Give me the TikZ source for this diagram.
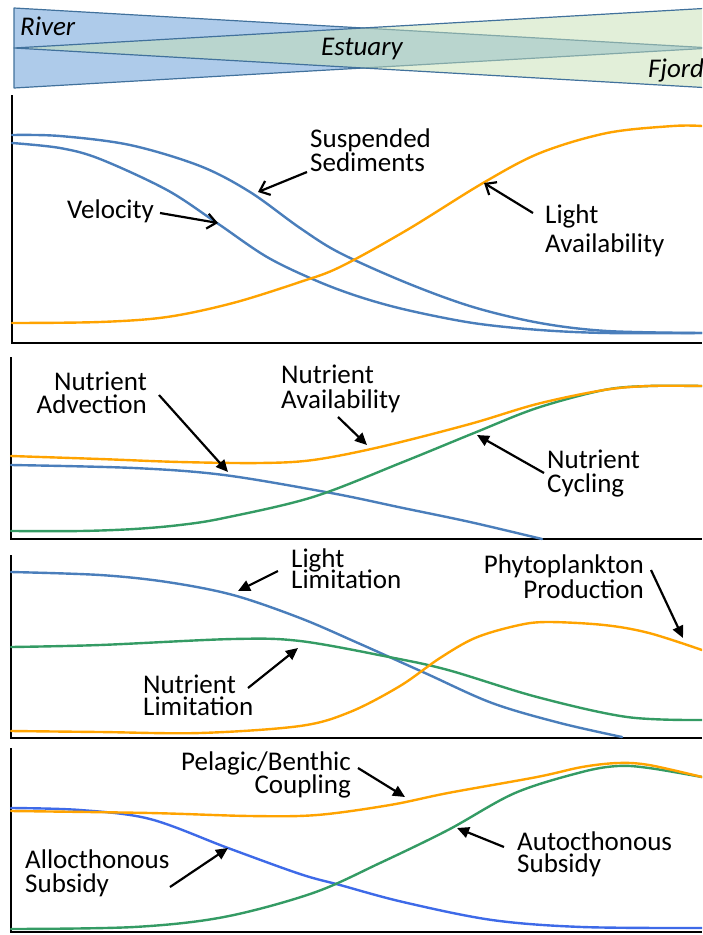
\documentclass[tikz,border=0pt]{standalone}
\usepackage{fontspec}
\setmainfont{Carlito}
\usetikzlibrary{arrows.meta}
\definecolor{bandblue}{RGB}{174,203,234}
\definecolor{bandgreen}{RGB}{197,224,180}
\definecolor{bandline}{RGB}{65,113,156}
\definecolor{cblue}{RGB}{74,126,187}
\definecolor{cblueb}{RGB}{62,106,232}
\definecolor{corange}{RGB}{255,163,0}
\definecolor{cgreen}{RGB}{52,155,100}
\newcommand\twoL[3]{\vtop{\baselineskip=#1\relax\lineskiplimit=-100pt\halign{##\hfil\cr #2\cr #3\cr}}}
\newcommand\twoR[3]{\vtop{\baselineskip=#1\relax\lineskiplimit=-100pt\halign{\hfil##\cr #2\cr #3\cr}}}
\begin{document}
\begin{tikzpicture}[x=1pt,y=-1pt,
  curve/.style={line width=2.4pt, line cap=round, line join=round},
  axis/.style={line width=2.6pt},
  lbl/.style={inner sep=0pt, font=\fontsize{27}{23}\selectfont},
  ital/.style={inner sep=0pt, font=\fontsize{27}{23}\selectfont\itshape},
  arr/.style={line width=2.2pt, -{Straight Barb[length=9pt,width=15pt]}},
  farr/.style={line width=2.2pt, -{Triangle[length=12pt,width=11pt]}},
  band/.style={draw=bandline, line width=1.2pt, line join=round}]
\useasboundingbox (0,0) rectangle (702,935);
\clip (0,0) rectangle (702,935);

% top band
\filldraw[band, fill=bandblue] (14,8) -- (14,88) -- (712,48) -- cycle;
\filldraw[band, fill=bandgreen, fill opacity=0.5] (712,8) -- (712,88) -- (14,48) -- cycle;
\node[ital, anchor=base west] (river) at (20,35) {River};
\node[ital, anchor=base] (estuary) at (362,55) {Estuary};
\node[ital, anchor=base west] (fjord) at (648,77) {Fjord};

% panel 1
\draw[axis] (12,95) -- (12,343) -- (702,343);
\draw[curve, cblue] plot[smooth, tension=0.55] coordinates {(12,135) (60,136) (130,145) (200,166) (250,192) (300,228) (340,253) (407,283) (473,307) (540,323) (607,331) (702,333)};
\draw[curve, cblue] plot[smooth, tension=0.55] coordinates {(12,143) (60,148) (100,159) (167,190) (217,223) (267,257) (317,281) (360,297) (407,310) (473,323) (540,330) (607,333) (702,333)};
\draw[curve, corange] plot[smooth, tension=0.55] coordinates {(12,323) (100,322) (167,317) (233,303) (300,282) (340,267) (407,230) (483,183) (540,153) (607,133) (673,126) (702,126)};
\node[lbl, anchor=base west] (susp) at (310,147) {\twoL{24pt}{Suspended}{Sediments}};
\node[lbl, anchor=base west] (vel) at (67,218) {Velocity};
\node[lbl, anchor=base west] (light) at (545,223) {\twoL{29pt}{Light}{Availability}};
\coordinate (t1) at (307,172); \coordinate (h1) at (258,192);
\coordinate (t2) at (160,213); \coordinate (h2) at (218,223);
\coordinate (t3) at (533,213); \coordinate (h3) at (484,183);
\draw[arr] (t1) -- (h1);
\draw[arr] (t2) -- (h2);
\draw[arr] (t3) -- (h3);

% panel 2
\draw[axis] (11,357) -- (11,539) -- (702,539);
\draw[curve, cblue] plot[smooth, tension=0.55] coordinates {(11,465) (134,468) (224,475) (331,493) (403,508) (470,522) (542,539)};
\draw[curve, cgreen] plot[smooth, tension=0.55] coordinates {(11,531) (80,531) (134,529) (180,525) (224,518) (313,497) (403,462) (474,433) (537,408) (604,390) (649,386) (702,386)};
\draw[curve, corange] plot[smooth, tension=0.55] coordinates {(11,456) (100,459) (180,462) (260,463) (313,460) (380,447) (470,424) (537,404) (604,390) (649,386) (702,386)};
\node[lbl, anchor=base east] (adv) at (147,390) {\twoR{23pt}{Nutrient}{Advection}};
\node[lbl, anchor=base west] (avail) at (281,383) {\twoL{25pt}{Nutrient}{Availability}};
\node[lbl, anchor=base west] (cyc) at (547,468) {\twoL{24pt}{Nutrient}{Cycling}};
\coordinate (t4) at (159,395); \coordinate (h4) at (228,472);
\coordinate (t5) at (338,417); \coordinate (h5) at (367,445);
\coordinate (t6) at (544,473); \coordinate (h6) at (477,435);
\draw[farr] (t4) -- (h4);
\draw[farr] (t5) -- (h5);
\draw[farr] (t6) -- (h6);

% panel 3
\draw[axis] (11,555) -- (11,738) -- (702,738);
\draw[curve, cblue] plot[smooth, tension=0.55] coordinates {(11,572) (100,575) (167,582) (233,595) (300,618) (358,643) (425,673) (492,703) (560,723) (622,737)};
\draw[curve, cgreen] plot[smooth, tension=0.55] coordinates {(11,647) (100,645) (233,639) (300,641) (389,657) (448,670) (537,697) (627,717) (702,720)};
\draw[curve, corange] plot[smooth, tension=0.55] coordinates {(11,731) (100,732) (200,733) (300,726) (350,712) (400,686) (440,658) (475,638) (515,626) (546,622) (604,625) (649,633) (702,650)};
\node[lbl, anchor=base west] (llim) at (291,567) {\twoL{21pt}{Light}{Limitation}};
\node[lbl, anchor=base east] (phyto) at (644,573) {\twoR{25pt}{Phytoplankton}{Production}};
\node[lbl, anchor=base west] (nlim) at (143,693) {\twoL{22pt}{Nutrient}{Limitation}};
\coordinate (t7) at (278,571); \coordinate (h7) at (238,591);
\coordinate (t8) at (651,570); \coordinate (h8) at (683,638);
\coordinate (t9) at (248,688); \coordinate (h9) at (298,648);
\draw[farr] (t7) -- (h7);
\draw[farr] (t8) -- (h8);
\draw[farr] (t9) -- (h9);

% panel 4
\draw[axis] (11,748) -- (11,932) -- (702,932);
\draw[curve, cblueb] plot[smooth, tension=0.55] coordinates {(11,808) (80,810) (150,819) (228,848) (300,874) (340,885) (403,902) (492,920) (582,927) (702,928)};
\draw[curve, cgreen] plot[smooth, tension=0.55] coordinates {(11,929) (134,927) (224,917) (313,893) (380,863) (448,830) (515,793) (582,772) (618,766) (649,768) (702,777)};
\draw[curve, corange] plot[smooth, tension=0.55] coordinates {(11,811) (150,813) (250,816) (317,815) (390,805) (448,793) (537,777) (582,767) (618,763) (649,765) (702,777)};
\node[lbl, anchor=base east] (pel) at (351,770) {\twoR{23pt}{Pelagic/Benthic}{Coupling}};
\node[lbl, anchor=base west] (allo) at (25,868) {\twoL{24pt}{Allocthonous}{Subsidy}};
\node[lbl, anchor=base west] (auto) at (517,850) {\twoL{22pt}{Autocthonous}{Subsidy}};
\coordinate (t10) at (358,768); \coordinate (h10) at (405,797);
\coordinate (t11) at (170,887); \coordinate (h11) at (228,848);
\coordinate (t12) at (504,847); \coordinate (h12) at (457,828);
\draw[farr] (t10) -- (h10);
\draw[farr] (t11) -- (h11);
\draw[farr] (t12) -- (h12);
\end{tikzpicture}
\end{document}
